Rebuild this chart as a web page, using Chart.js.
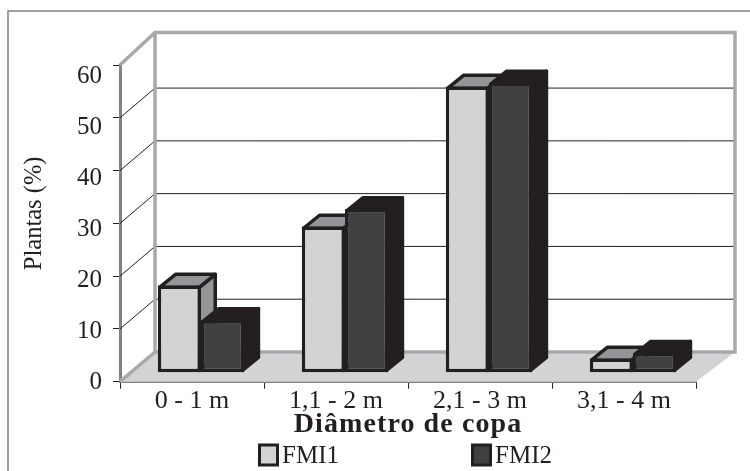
<!DOCTYPE html>
<html><head><meta charset="utf-8">
<style>html,body{margin:0;padding:0;background:#fff}#w{width:750px;height:471px}</style>
<script src="https://cdn.jsdelivr.net/npm/chart.js@4"></script>
</head><body><div id="w"><canvas id="c"></canvas></div>
<script>
const categories = ['0 - 1 m','1,1 - 2 m','2,1 - 3 m','3,1 - 4 m'];
const fmi1 = [16.5, 27.7, 54.2, 2.7];
const fmi2 = [10, 31, 55, 3.8];
const yTicks = [0,10,20,30,40,50,60];
const INK='#231f20', WALL='#a7a9ac', FLOOR='#d1d3d4', MID='#939598', AXIS='#808285';
const DX=35, DY=29.7, DYTOP=32.5, BX=9, BY=-9, D3X=16, D3Y=13, BW=3.5;
const faces=[{top:MID,side:MID},{top:INK,side:INK}];
function poly(ctx,pts,fill,stroke,lw){ctx.beginPath();pts.forEach((p,i)=>i?ctx.lineTo(p[0],p[1]):ctx.moveTo(p[0],p[1]));ctx.closePath();
 if(fill){ctx.fillStyle=fill;ctx.fill();} if(stroke){ctx.strokeStyle=stroke;ctx.lineWidth=lw;ctx.lineJoin='round';ctx.stroke();}}
const depth={id:'depth',
 beforeDraw(chart){const c=chart.ctx;c.save();c.strokeStyle=AXIS;c.lineWidth=1.5;c.strokeRect(8,11,760,480);c.restore();},
 beforeDatasetsDraw(chart){
  const c=chart.ctx,a=chart.chartArea,y=chart.scales.y,R=a.right+DX+4;c.save();
  poly(c,[[a.left,a.bottom],[a.left+DX,a.bottom-DY],[R,a.bottom-DY],[a.right,a.bottom]],FLOOR);
  c.strokeStyle=INK;c.lineWidth=1;
  yTicks.forEach(v=>{ if(v===0||v===60)return; const p=y.getPixelForValue(v);
   c.beginPath();c.moveTo(a.left,p);c.lineTo(a.left+DX,p-DY);c.lineTo(R,p-DY);c.stroke();});
  c.strokeStyle=WALL;c.lineWidth=3.5;c.lineJoin='miter';
  const T=a.top-DYTOP,B=a.bottom-DY;
  c.beginPath();c.moveTo(a.left,a.top);c.lineTo(a.left+DX,T);c.lineTo(R,T);c.lineTo(R,B);c.lineTo(a.left+DX,B);c.lineTo(a.left+DX,T);c.moveTo(a.left+DX,B);c.lineTo(a.left,a.bottom);c.stroke();
  c.restore();
  // bars: back series first, each with its depth faces
  c.save();c.translate(BX,BY);
  chart.data.datasets.forEach((d,i)=>{
   const f=faces[i],meta=chart.getDatasetMeta(i);
   meta.data.forEach(b=>{
    const h=BW/2,l=b.x-b.width/2+h,r=b.x+b.width/2-h,t=b.y+h,bot=b.base-h;
    poly(c,[[r,t],[r+D3X,t-D3Y],[r+D3X,bot-D3Y],[r,bot]],f.side,INK,BW);
    poly(c,[[l,t],[l+D3X,t-D3Y],[r+D3X,t-D3Y],[r,t]],f.top,INK,BW);
   });
   meta.controller.draw();
  });
  c.restore();
  // legend
  const xs=[258,471];c.save();
  chart.data.datasets.forEach((d,i)=>{
   c.fillStyle=d.backgroundColor;c.strokeStyle=INK;c.lineWidth=3;
   c.fillRect(xs[i]+1.5,445,18,20);c.strokeRect(xs[i]+1.5,445,18,20);
   c.fillStyle=INK;c.font='25px "Liberation Serif"';c.textBaseline='middle';c.textAlign='left';
   c.fillText(d.label,xs[i]+24,456);
  });c.restore();
  return false;
 }};
new Chart(document.getElementById('c'),{type:'bar',
 data:{labels:categories,datasets:[
  {label:'FMI1',data:fmi1,backgroundColor:FLOOR,borderColor:INK,borderWidth:BW,borderSkipped:false},
  {label:'FMI2',data:fmi2,backgroundColor:'#414042',borderColor:INK,borderWidth:BW,borderSkipped:false}]},
 options:{responsive:true,maintainAspectRatio:false,animation:false,events:[],
  datasets:{bar:{categoryPercentage:0.6,barPercentage:1}},
  layout:{padding:{left:0,right:54,top:65,bottom:0}},
  plugins:{legend:{display:false},tooltip:{enabled:false}},
  scales:{
   x:{offset:true,
    afterFit(s){s.height=89.3;
     if(!s._wrapped){s._wrapped=true;const dt=s.drawTitle.bind(s);
      s.drawTitle=function(){const c=s.ctx;c.save();c.letterSpacing='1.1px';dt();c.restore();};}},
    grid:{drawOnChartArea:false,drawTicks:true,tickLength:7,color:INK,lineWidth:1},
    border:{display:true,color:AXIS,width:2},
    ticks:{color:INK,font:{family:'"Liberation Serif"',size:26},padding:-3,maxRotation:0},
    title:{display:true,text:'Diâmetro de copa',color:INK,font:{family:'"Liberation Serif"',size:28,weight:'bold'},padding:{top:0,bottom:29}}},
   y:{min:0,max:60,
    afterBuildTicks(s){s.ticks=yTicks.map(v=>({value:v}));
     if(!s._wrapped){s._wrapped=true;
      const dt=s.drawTitle.bind(s);
      s.drawTitle=function(){const c=s.ctx;c.save();c.translate(0,-10);dt();c.restore();};
      const cl=s._computeLabelItems.bind(s);
      s._computeLabelItems=function(area){const items=cl(area);
       items.forEach((it,i)=>{const v=s.ticks[i].value;it.options.translation[1]+=11.5-(60-v)*0.18;});return items;};
     }},
    afterFit(s){s.width=120;},
    grid:{drawOnChartArea:false,drawTicks:true,tickLength:7,color:INK,lineWidth:1},
    border:{display:true,color:AXIS,width:3},
    ticks:{color:INK,font:{family:'"Liberation Serif"',size:25},padding:11},
    title:{display:true,text:'Plantas (%)',color:INK,font:{family:'"Liberation Serif"',size:24.5},padding:{top:20,bottom:0}}}
  }},
 plugins:[depth]});
</script></body></html>
